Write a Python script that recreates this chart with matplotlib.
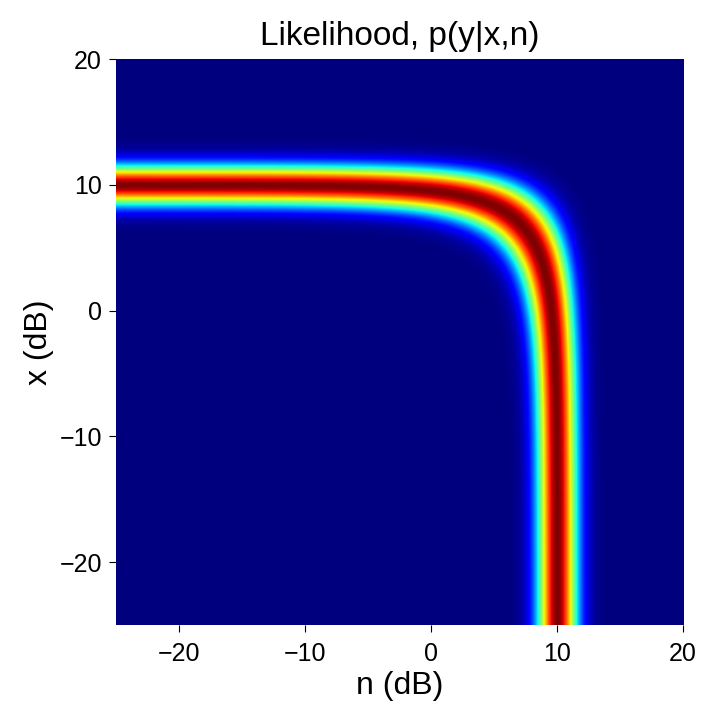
import numpy as np
import matplotlib
matplotlib.use("Agg")
import matplotlib.pyplot as plt

plt.rcParams['font.family'] = ['Liberation Sans', 'DejaVu Sans']

# observed noisy value and model spread (dB)
y_obs = 10.0
sigma = 1.1
x_range = [-25, 20]
n_range = [-25, 20]
ticks = [-20, -10, 0, 10, 20]

# grid over clean speech x and noise n (dB)
n = np.linspace(n_range[0], n_range[1], 500)
x = np.linspace(x_range[0], x_range[1], 500)
N, X = np.meshgrid(n, x)
y_pred = 10 * np.log10(10 ** (X / 10) + 10 ** (N / 10))
lik = np.exp(-(y_obs - y_pred) ** 2 / (2 * sigma ** 2))

fig = plt.figure(figsize=(7.02, 7.02), dpi=100)
ax = fig.add_axes([0.165, 0.1097, 0.8077, 0.806])
ax.imshow(lik, cmap='jet', origin='lower', aspect='auto',
          extent=[n_range[0], n_range[1], x_range[0], x_range[1]],
          interpolation='bilinear')
ax.set_xticks(ticks)
ax.set_yticks(ticks)
ax.tick_params(labelsize=18, length=5, width=0.8)
ax.tick_params(axis='x', pad=7)
ax.tick_params(axis='y', pad=5)
for s in ax.spines.values():
    s.set_visible(False)
ax.set_xlabel('n (dB)', fontsize=23, labelpad=4)
ax.set_ylabel('x (dB)', fontsize=23, labelpad=4)
ax.set_title('Likelihood, p(y|x,n)', fontsize=24, pad=10)

fig.savefig('out.png', dpi=100)
